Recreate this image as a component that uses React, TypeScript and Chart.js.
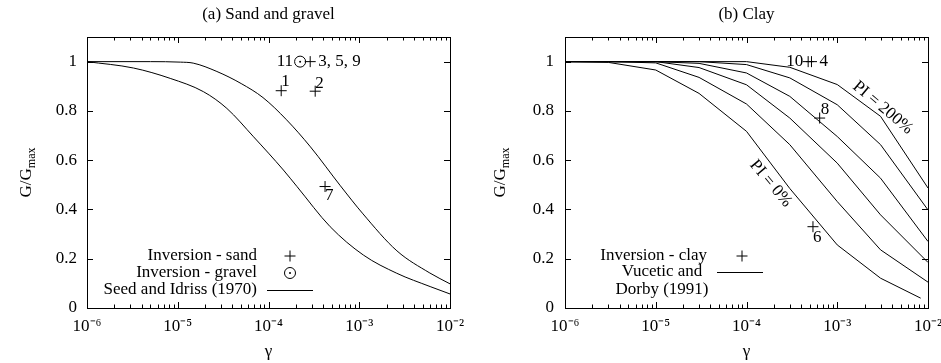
import { useEffect, useRef } from "react";
import { Chart, registerables } from "chart.js";

Chart.register(...registerables);

const FONT = '"Liberation Serif", "Times New Roman", serif';
const FS = 17;

// ---------- Panel (a): sand and gravel ----------
const seedUpperStrain = [1e-6, 5e-6, 1.07e-5, 1.48e-5, 2.7e-5, 5e-5, 8.7e-5, 1.58e-4, 2.9e-4, 6.2e-4, 1.1e-3, 2.6e-3, 6e-3, 1e-2];
const seedUpperG = [1.0, 1.0, 0.998, 0.994, 0.96, 0.911, 0.854, 0.764, 0.654, 0.496, 0.382, 0.232, 0.142, 0.098];
const seedLowerStrain = [1e-6, 3.26e-6, 8.26e-6, 1.92e-5, 3.48e-5, 6.84e-5, 1.46e-4, 2.06e-4, 4.78e-4, 1.11e-3, 2.59e-3, 6.04e-3, 1e-2];
const seedLowerG = [1.0, 0.974, 0.932, 0.878, 0.81, 0.695, 0.56, 0.493, 0.33, 0.215, 0.141, 0.087, 0.057];

const sandIds = ["1", "2", "3, 5, 9", "7"];
const sandStrain = [1.38e-4, 3.27e-4, 2.88e-4, 4.2e-4];
const sandG = [0.882, 0.88, 1.0, 0.493];

const gravelIds = ["11"];
const gravelStrain = [2.23e-4];
const gravelG = [1.0];

// ---------- Panel (b): clay ----------
const vdStrain = [1e-6, 3e-6, 1e-5, 3e-5, 1e-4, 3e-4, 1e-3, 3e-3, 1e-2];
const pi0Strain = [1e-6, 3e-6, 1e-5, 3e-5, 1e-4, 3e-4, 1e-3, 3e-3, 8.3e-3];
const pi0G = [1.0, 0.997, 0.966, 0.871, 0.717, 0.485, 0.256, 0.121, 0.04];
const pi15G = [1.0, 1.0, 0.995, 0.936, 0.828, 0.663, 0.432, 0.236, 0.105];
const pi30G = [1.0, 1.0, 1.0, 0.976, 0.906, 0.771, 0.588, 0.378, 0.185];
const pi50G = [1.0, 1.0, 1.0, 0.993, 0.954, 0.859, 0.696, 0.527, 0.27];
const pi100G = [1.0, 1.0, 1.0, 1.0, 0.988, 0.934, 0.825, 0.663, 0.398];
const pi200G = [1.0, 1.0, 1.0, 1.0, 1.0, 0.977, 0.907, 0.778, 0.487];

const clayIds = ["10", "4", "8", "6"];
const clayStrain = [4.78e-4, 5.2e-4, 6.4e-4, 5.4e-4];
const clayG = [1.0, 1.0, 0.771, 0.33];

// ---------- Axes ----------
const xMin = 1e-6;
const xMax = 1e-2;
const yMin = 0;
const yMax = 1.1;
const yTickValues = [0, 0.2, 0.4, 0.6, 0.8, 1];

const SUP: Record<string, string> = {
  "-": "\u207B", "0": "\u2070", "1": "\u00B9", "2": "\u00B2", "3": "\u00B3",
  "4": "\u2074", "5": "\u2075", "6": "\u2076", "7": "\u2077", "8": "\u2078", "9": "\u2079",
};

function decadeLabel(v: number): string {
  const e = Math.log10(v);
  if (Math.abs(e - Math.round(e)) > 1e-6) return "";
  const s = String(Math.round(e)).split("").map((c) => SUP[c] ?? c).join("");
  return "10" + s;
}

const pts = (xs: number[], ys: number[]) => xs.map((x, i) => ({ x, y: ys[i] }));

type LegendItem = { text: string[]; textX: number; align: "right" | "center"; y: number[]; sample: "plus" | "circle" | "line"; sampleX: number; sampleY: number };
type PointLabel = { text: string; x: number; y: number; dx: number; dy: number; align: CanvasTextAlign };
type RotLabel = { text: string; x: number; y: number; angle: number };

type PanelCfg = {
  title: string;
  yTitleBaseX: number;
  plotLeftWidth: number;
  padRight: number;
  yPad: number;
  legend: LegendItem[];
  labels: PointLabel[];
  rotated: RotLabel[];
  datasets: any[];
};

function drawPlus(ctx: CanvasRenderingContext2D, x: number, y: number, r: number) {
  ctx.beginPath();
  ctx.moveTo(x - r, y);
  ctx.lineTo(x + r, y);
  ctx.moveTo(x, y - r);
  ctx.lineTo(x, y + r);
  ctx.stroke();
}

function makeDecor(cfg: PanelCfg) {
  return {
    id: "decor",
    afterDraw(chart: any) {
      const ctx: CanvasRenderingContext2D = chart.ctx;
      const a = chart.chartArea;
      const xs = chart.scales.x;
      const ys = chart.scales.y;
      ctx.save();
      ctx.fillStyle = "#000";
      ctx.strokeStyle = "#000";
      ctx.lineWidth = 1;

      // frame
      ctx.strokeRect(Math.round(a.left) + 0.5, Math.round(a.top) + 0.5, Math.round(a.right - a.left), Math.round(a.bottom - a.top));

      // tick marks (inward, mirrored)
      ctx.beginPath();
      for (let e = -6; e <= -2; e++) {
        for (let k = 1; k <= 9; k++) {
          const v = k * Math.pow(10, e);
          if (v > xMax * 1.0001) break;
          const px = Math.round(xs.getPixelForValue(v)) + 0.5;
          const len = k === 1 ? 6 : 3.5;
          ctx.moveTo(px, a.bottom);
          ctx.lineTo(px, a.bottom - len);
          ctx.moveTo(px, a.top);
          ctx.lineTo(px, a.top + len);
        }
      }
      for (const v of yTickValues) {
        const py = Math.round(ys.getPixelForValue(v)) + 0.5;
        ctx.moveTo(a.left, py);
        ctx.lineTo(a.left + 6, py);
        ctx.moveTo(a.right, py);
        ctx.lineTo(a.right - 6, py);
      }
      ctx.stroke();

      // panel title
      const cx = (a.left + a.right) / 2;
      ctx.font = `${FS}px ${FONT}`;
      ctx.textAlign = "center";
      ctx.textBaseline = "middle";
      ctx.fillText(cfg.title, cx, 15);

      // x title
      ctx.fillText("\u03B3", cx, 352);

      // y title with subscript
      ctx.save();
      ctx.translate(cfg.yTitleBaseX, (a.top + a.bottom) / 2);
      ctx.rotate(-Math.PI / 2);
      ctx.textAlign = "left";
      ctx.textBaseline = "alphabetic";
      ctx.font = `${FS}px ${FONT}`;
      const w1 = ctx.measureText("G/G").width;
      ctx.font = `${Math.round(FS * 0.68)}px ${FONT}`;
      const w2 = ctx.measureText("max").width;
      const sx = -(w1 + w2) / 2;
      ctx.font = `${FS}px ${FONT}`;
      ctx.fillText("G/G", sx, 0);
      ctx.font = `${Math.round(FS * 0.68)}px ${FONT}`;
      ctx.fillText("max", sx + w1, 4);
      ctx.restore();

      // legend
      ctx.font = `${FS}px ${FONT}`;
      ctx.textBaseline = "middle";
      for (const it of cfg.legend) {
        ctx.textAlign = it.align;
        it.text.forEach((t, i) => ctx.fillText(t, it.textX, it.y[i]));
        if (it.sample === "plus") {
          drawPlus(ctx, it.sampleX, it.sampleY, 5.5);
        } else if (it.sample === "circle") {
          ctx.beginPath();
          ctx.arc(it.sampleX, it.sampleY, 5.5, 0, Math.PI * 2);
          ctx.stroke();
          ctx.beginPath();
          ctx.arc(it.sampleX, it.sampleY, 1, 0, Math.PI * 2);
          ctx.fill();
        } else {
          ctx.beginPath();
          ctx.moveTo(it.sampleX - 23, Math.round(it.sampleY) + 0.5);
          ctx.lineTo(it.sampleX + 23, Math.round(it.sampleY) + 0.5);
          ctx.stroke();
        }
      }

      // point labels
      for (const l of cfg.labels) {
        ctx.textAlign = l.align;
        ctx.fillText(l.text, xs.getPixelForValue(l.x) + l.dx, ys.getPixelForValue(l.y) + l.dy);
      }

      // rotated labels
      for (const r of cfg.rotated) {
        ctx.save();
        ctx.translate(xs.getPixelForValue(r.x), ys.getPixelForValue(r.y));
        ctx.rotate((r.angle * Math.PI) / 180);
        ctx.textAlign = "center";
        ctx.fillText(r.text, 0, 0);
        ctx.restore();
      }
      ctx.restore();
    },
  };
}

function buildConfig(cfg: PanelCfg): any {
  return {
    type: "scatter",
    data: { datasets: cfg.datasets },
    options: {
      responsive: false,
      animation: false,
      devicePixelRatio: 1,
      layout: { padding: { left: 0, right: cfg.padRight, top: 37, bottom: 0 } },
      plugins: { legend: { display: false }, tooltip: { enabled: false }, title: { display: false } },
      scales: {
        x: {
          type: "logarithmic",
          min: xMin,
          max: xMax,
          grid: { display: false, drawTicks: false },
          border: { display: false },
          ticks: {
            autoSkip: false,
            maxRotation: 0,
            minRotation: 0,
            padding: 8,
            color: "#000",
            font: { family: FONT, size: FS },
            callback: (v: any) => decadeLabel(Number(v)),
          },
          afterFit: (s: any) => {
            s.height = 55;
            s.paddingLeft = 0;
            s.paddingRight = 0;
          },
        },
        y: {
          type: "linear",
          min: yMin,
          max: yMax,
          grid: { display: false, drawTicks: false },
          border: { display: false },
          ticks: {
            stepSize: 0.2,
            includeBounds: false,
            padding: cfg.yPad,
            color: "#000",
            font: { family: FONT, size: FS },
            callback: (v: any) => String(Number(Number(v).toFixed(1))),
          },
          afterFit: (s: any) => {
            s.width = cfg.plotLeftWidth;
            s.paddingTop = 0;
            s.paddingBottom = 0;
          },
        },
      },
    },
    plugins: [makeDecor(cfg)],
  };
}

const lineDs = (xs: number[], ys: number[], smooth: boolean) => ({
  data: pts(xs, ys),
  showLine: true,
  borderColor: "#000",
  borderWidth: 1,
  pointRadius: 0,
  fill: false,
  tension: smooth ? 0.4 : 0,
  cubicInterpolationMode: smooth ? "monotone" : "default",
});

const crossDs = (xs: number[], ys: number[]) => ({
  data: pts(xs, ys),
  showLine: false,
  pointStyle: "cross",
  pointRadius: 5.5,
  pointBorderWidth: 1,
  borderColor: "#000",
  backgroundColor: "#000",
});

const panelA: PanelCfg = {
  title: "(a) Sand and gravel",
  yTitleBaseX: 31,
  plotLeftWidth: 87,
  padRight: 20,
  yPad: 10,
  datasets: [
    lineDs(seedUpperStrain, seedUpperG, true),
    lineDs(seedLowerStrain, seedLowerG, true),
    crossDs(sandStrain, sandG),
    {
      data: pts(gravelStrain, gravelG),
      showLine: false,
      pointStyle: "circle",
      pointRadius: 5.5,
      pointBorderWidth: 1,
      borderColor: "#000",
      backgroundColor: "rgba(0,0,0,0)",
    },
    {
      data: pts(gravelStrain, gravelG),
      showLine: false,
      pointStyle: "circle",
      pointRadius: 1,
      pointBorderWidth: 0,
      borderColor: "#000",
      backgroundColor: "#000",
    },
  ],
  legend: [
    { text: ["Inversion - sand"], textX: 257, align: "right", y: [256], sample: "plus", sampleX: 290, sampleY: 256 },
    { text: ["Inversion - gravel"], textX: 257, align: "right", y: [273], sample: "circle", sampleX: 290, sampleY: 273 },
    { text: ["Seed and Idriss (1970)"], textX: 257, align: "right", y: [290], sample: "line", sampleX: 290, sampleY: 290 },
  ],
  labels: [
    { text: gravelIds[0], x: gravelStrain[0], y: gravelG[0], dx: -7, dy: 0, align: "right" },
    { text: sandIds[0], x: sandStrain[0], y: sandG[0], dx: 0, dy: -9, align: "left" },
    { text: sandIds[1], x: sandStrain[1], y: sandG[1], dx: 0, dy: -8, align: "left" },
    { text: sandIds[2], x: sandStrain[2], y: sandG[2], dx: 8, dy: 0, align: "left" },
    { text: sandIds[3], x: sandStrain[3], y: sandG[3], dx: 0, dy: 9, align: "left" },
  ],
  rotated: [],
};

const panelB: PanelCfg = {
  title: "(b) Clay",
  yTitleBaseX: 35,
  plotLeftWidth: 95,
  padRight: 13,
  yPad: 11,
  datasets: [
    lineDs(pi0Strain, pi0G, false),
    lineDs(vdStrain, pi15G, false),
    lineDs(vdStrain, pi30G, false),
    lineDs(vdStrain, pi50G, false),
    lineDs(vdStrain, pi100G, false),
    lineDs(vdStrain, pi200G, false),
    crossDs(clayStrain, clayG),
  ],
  legend: [
    { text: ["Inversion - clay"], textX: 237, align: "right", y: [256], sample: "plus", sampleX: 272, sampleY: 256 },
    { text: ["Vucetic and", "Dorby (1991)"], textX: 192, align: "center", y: [272, 290], sample: "line", sampleX: 270, sampleY: 272 },
  ],
  labels: [
    { text: clayIds[0], x: clayStrain[0], y: clayG[0], dx: -5, dy: 0, align: "right" },
    { text: clayIds[1], x: clayStrain[1], y: clayG[1], dx: 8, dy: 0, align: "left" },
    { text: clayIds[2], x: clayStrain[2], y: clayG[2], dx: 1, dy: -9, align: "left" },
    { text: clayIds[3], x: clayStrain[3], y: clayG[3], dx: 0, dy: 11, align: "left" },
  ],
  rotated: [
    { text: "PI = 200%", x: 3.18e-3, y: 0.813, angle: 40 },
    { text: "PI = 0%", x: 1.85e-4, y: 0.505, angle: 50 },
  ],
};

function Panel({ cfg, left, width }: { cfg: PanelCfg; left: number; width: number }) {
  const ref = useRef<HTMLCanvasElement>(null);
  useEffect(() => {
    const chart = new Chart(ref.current as HTMLCanvasElement, buildConfig(cfg));
    return () => chart.destroy();
  }, [cfg]);
  return (
    <canvas
      ref={ref}
      width={width}
      height={363}
      style={{ position: "absolute", left, top: 0, width, height: 363 }}
    />
  );
}

export default function App() {
  return (
    <div style={{ position: "absolute", left: 0, top: 0, width: 941, height: 363, background: "#fff" }}>
      <Panel cfg={panelA} left={0} width={470} />
      <Panel cfg={panelB} left={470} width={471} />
    </div>
  );
}
